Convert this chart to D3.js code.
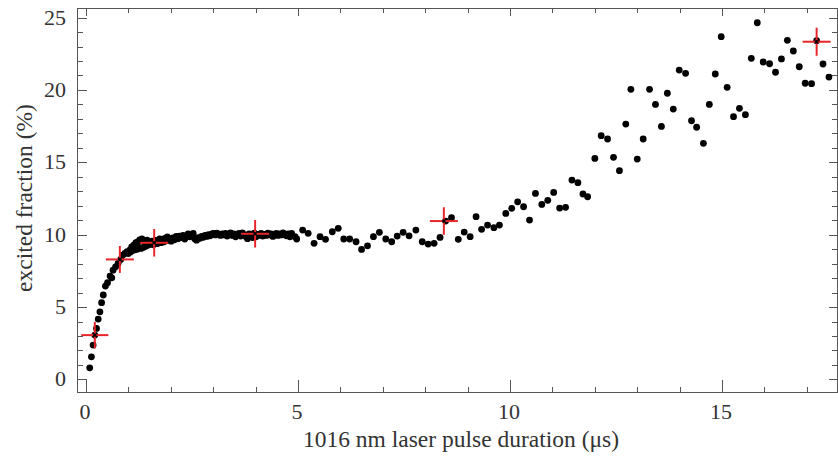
<!DOCTYPE html>
<html>
<head>
<meta charset="utf-8">
<script src="https://cdn.jsdelivr.net/npm/d3@7"></script>
<style>
  svg text { font-family: "Liberation Serif", Tinos, FreeSerif, "Times New Roman", Times !important; }
</style>
</head>
<body style="margin:0">
<svg id="chart" width="838" height="461" font-family="Liberation Serif"></svg>
<script>
// Measured pulse durations (us) and excited fractions (%)
const durations = [
  0.09, 0.13, 0.17, 0.21, 0.25, 0.29, 0.33, 0.37, 0.41, 0.46, 0.51, 0.57, 0.61, 0.64, 0.70, 0.76, 0.82, 0.87, 0.92, 0.97,
  1.04, 1.08, 1.13, 1.18, 1.23, 1.27, 1.00, 1.05, 1.10, 1.16, 1.21, 1.26,
  1.30, 1.32, 1.35, 1.38, 1.41, 1.44, 1.47, 1.50, 1.53, 1.56, 1.59, 1.62, 1.65, 1.68, 1.71, 1.74, 1.77, 1.80,
  1.83, 1.86, 1.89, 1.92, 1.95, 1.98, 2.01, 2.05, 2.09, 2.13, 2.17, 2.21, 2.25, 2.29, 2.33, 2.37, 2.41, 2.45,
  2.49, 2.53, 2.57, 2.61, 2.65, 2.69, 2.73, 2.77, 2.81, 2.85, 2.89, 2.93, 2.97, 3.01, 3.05, 3.09, 3.13, 3.17,
  3.21, 3.25, 3.29, 3.33, 3.37, 3.41, 3.45, 3.49, 3.53, 3.57, 3.61, 3.65, 3.69, 3.73, 3.77, 3.81, 3.85, 3.89,
  3.93, 3.97, 4.01, 4.05, 4.09, 4.13, 4.17, 4.21, 4.25, 4.29, 4.33, 4.37, 4.41, 4.45, 4.49, 4.53, 4.57, 4.61,
  4.65, 4.69, 4.73, 4.77, 4.81,
  4.85, 4.93, 4.97, 5.11, 5.24, 5.38, 5.52, 5.65, 5.81, 5.95, 6.08, 6.22, 6.37, 6.50, 6.64, 6.78, 6.92, 7.07,
  7.21, 7.34, 7.48, 7.62, 7.78, 7.93, 8.07, 8.21, 8.35, 8.48, 8.62, 8.78, 8.92, 9.06, 9.20, 9.33, 9.47, 9.62,
  9.75, 9.90, 10.04, 10.18, 10.32, 10.46, 10.60, 10.75, 10.89, 11.03, 11.17, 11.31, 11.46, 11.60, 11.72, 11.83,
  12.00, 12.15, 12.30, 12.44, 12.58, 12.73, 12.85, 13.00, 13.14, 13.29, 13.43, 13.57, 13.71, 13.85, 13.99, 14.14,
  14.28, 14.40, 14.56, 14.70, 14.84, 14.98, 15.12, 15.27, 15.41, 15.55, 15.69, 15.83, 15.97, 16.12, 16.26, 16.40,
  16.54, 16.68, 16.82, 16.96, 17.11, 17.23, 17.38, 17.52
];
const fractions = [
  0.80, 1.56, 2.37, 3.06, 3.52, 4.17, 4.67, 5.30, 5.83, 6.45, 6.68, 7.14, 7.02, 7.55, 7.78, 8.02, 8.29, 8.59, 8.71, 8.82,
  8.94, 9.16, 9.28, 9.44, 9.51, 9.63, 8.70, 8.80, 8.90, 8.95, 9.00, 9.10,
  9.05, 9.70, 9.12, 9.55, 9.20, 9.62, 9.28, 9.48, 9.35, 9.55, 9.30, 9.42, 9.60, 9.38, 9.52, 9.70, 9.45, 9.62,
  9.50, 9.75, 9.58, 9.85, 9.62, 9.70, 9.55, 9.78, 9.65, 9.88, 9.72, 9.90, 9.80, 9.95, 9.70, 9.92, 10.05, 9.85,
  9.98, 10.08, 9.70, 9.62, 9.80, 9.75, 9.88, 9.82, 9.95, 9.88, 10.00, 9.92, 10.05, 10.08, 9.98, 10.10, 10.02, 9.95,
  10.05, 9.98, 10.08, 9.90, 10.00, 10.12, 9.95, 10.05, 9.85, 10.02, 10.08, 9.90, 10.12, 10.00, 9.88, 9.72, 10.05, 9.92,
  9.80, 10.10, 9.85, 10.02, 9.95, 10.08, 9.90, 10.02, 9.95, 10.10, 9.98, 10.05, 9.88, 10.02, 10.08, 9.95, 10.05, 9.98,
  10.12, 10.02, 9.92, 10.05, 9.85,
  10.09, 9.86, 9.70, 10.32, 10.09, 9.40, 9.86, 9.68, 10.20, 10.44, 9.70, 9.70, 9.51, 8.98, 9.23, 9.86, 10.16, 9.70,
  9.51, 9.90, 10.16, 9.92, 10.32, 9.51, 9.35, 9.40, 9.81, 10.94, 11.17, 9.68, 10.18, 9.86, 11.24, 10.37, 10.66, 10.48,
  10.66, 11.47, 11.82, 12.27, 11.93, 11.01, 12.85, 12.09, 12.37, 12.92, 11.84, 11.89, 13.77, 13.59, 12.81, 12.62,
  15.27, 16.84, 16.61, 15.34, 14.42, 17.64, 20.04, 15.22, 16.61, 20.04, 19.00, 17.48, 19.77, 18.68, 21.37, 21.15,
  17.87, 17.42, 16.31, 19.00, 21.10, 23.68, 20.18, 18.15, 18.73, 18.29, 22.18, 24.64, 21.93, 21.81, 21.22, 22.14,
  23.43, 22.69, 21.60, 20.46, 20.43, 23.40, 21.79, 20.89
];

// Averaged points with error bars
const avgDuration = [0.21, 0.80, 1.61, 3.99, 8.44, 17.23];
const avgFraction = [3.06, 8.29, 9.44, 10.06, 10.94, 23.33];
const errDuration = [0.32, 0.33, 0.33, 0.33, 0.33, 0.33];
const errFraction = [0.92, 0.93, 0.95, 0.95, 0.95, 0.97];

const xMajor = [0, 5, 10, 15];
const yMajor = [0, 5, 10, 15, 20, 25];

const plotLeft = 77, plotRight = 837, plotTop = 8, plotBottom = 392;

const svg = d3.select("#chart");

const x = d3.scaleLinear().domain([-0.21, 17.71]).range([plotLeft, plotRight]);
const y = d3.scaleLinear().domain([-0.87, 25.66]).range([plotBottom, plotTop]);

const xMinor = d3.range(0, 18);
const yMinor = d3.range(0, 26);

// frame
svg.append("rect")
    .attr("x", plotLeft + 0.5).attr("y", plotTop + 0.5)
    .attr("width", plotRight - plotLeft).attr("height", plotBottom - plotTop)
    .attr("fill", "none").attr("stroke", "#555").attr("stroke-width", 1);

const tickColor = "#555";
function isMajor(v){ return v % 5 === 0; }

// ticks pointing inward on all four sides
const ticks = svg.append("g").attr("stroke", tickColor).attr("stroke-width", 1);
xMinor.forEach(v => {
    const px = Math.round(x(v)) + 0.5;
    const len = isMajor(v) ? 12 : 5;
    ticks.append("line").attr("x1", px).attr("x2", px).attr("y1", plotBottom).attr("y2", plotBottom - len);
    ticks.append("line").attr("x1", px).attr("x2", px).attr("y1", plotTop).attr("y2", plotTop + (isMajor(v) ? 8 : 5));
});
yMinor.forEach(v => {
    const py = Math.round(y(v)) + 0.5;
    const len = isMajor(v) ? 10 : 6;
    ticks.append("line").attr("y1", py).attr("y2", py).attr("x1", plotLeft).attr("x2", plotLeft + len);
    ticks.append("line").attr("y1", py).attr("y2", py).attr("x1", plotRight).attr("x2", plotRight - (isMajor(v) ? 8 : 5));
});

// tick labels
svg.append("g").selectAll("text").data(xMajor).join("text")
    .attr("x", d => x(d) - 1).attr("y", 419)
    .attr("text-anchor", "middle")
    .attr("font-size", 22).attr("fill", "#333")
    .text(d => d);
svg.append("g").selectAll("text").data(yMajor).join("text")
    .attr("x", 66).attr("y", d => y(d) + 7)
    .attr("text-anchor", "end")
    .attr("font-size", 22).attr("fill", "#333")
    .text(d => d);

// axis titles
svg.append("text")
    .attr("x", 461).attr("y", 447)
    .attr("text-anchor", "middle")
    .attr("font-size", 23.5).attr("fill", "#333")
    .text("1016 nm laser pulse duration (\u03bcs)");
svg.append("text")
    .attr("transform", "translate(32,198) rotate(-90)")
    .attr("text-anchor", "middle")
    .attr("font-size", 23.5).attr("fill", "#333")
    .text("excited fraction (%)");

// data points
const pts = durations.map((d, i) => ({ t: d, f: fractions[i] }));
svg.append("g").selectAll("circle").data(pts).join("circle")
    .attr("cx", d => x(d.t)).attr("cy", d => y(d.f))
    .attr("r", 3.4).attr("fill", "#000");

// averaged points with error crosses
const avg = avgDuration.map((d, i) => ({ t: d, f: avgFraction[i], et: errDuration[i], ef: errFraction[i] }));
const cross = svg.append("g").attr("stroke", "#e8252b").attr("stroke-width", 2);
cross.selectAll("line.h").data(avg).join("line").attr("class", "h")
    .attr("x1", d => x(d.t - d.et)).attr("x2", d => x(d.t + d.et))
    .attr("y1", d => y(d.f)).attr("y2", d => y(d.f));
cross.selectAll("line.v").data(avg).join("line").attr("class", "v")
    .attr("x1", d => x(d.t)).attr("x2", d => x(d.t))
    .attr("y1", d => y(d.f - d.ef)).attr("y2", d => y(d.f + d.ef));
svg.append("g").selectAll("circle").data(avg).join("circle")
    .attr("cx", d => x(d.t)).attr("cy", d => y(d.f))
    .attr("r", 1.8).attr("fill", "#000");
</script>
</body>
</html>
